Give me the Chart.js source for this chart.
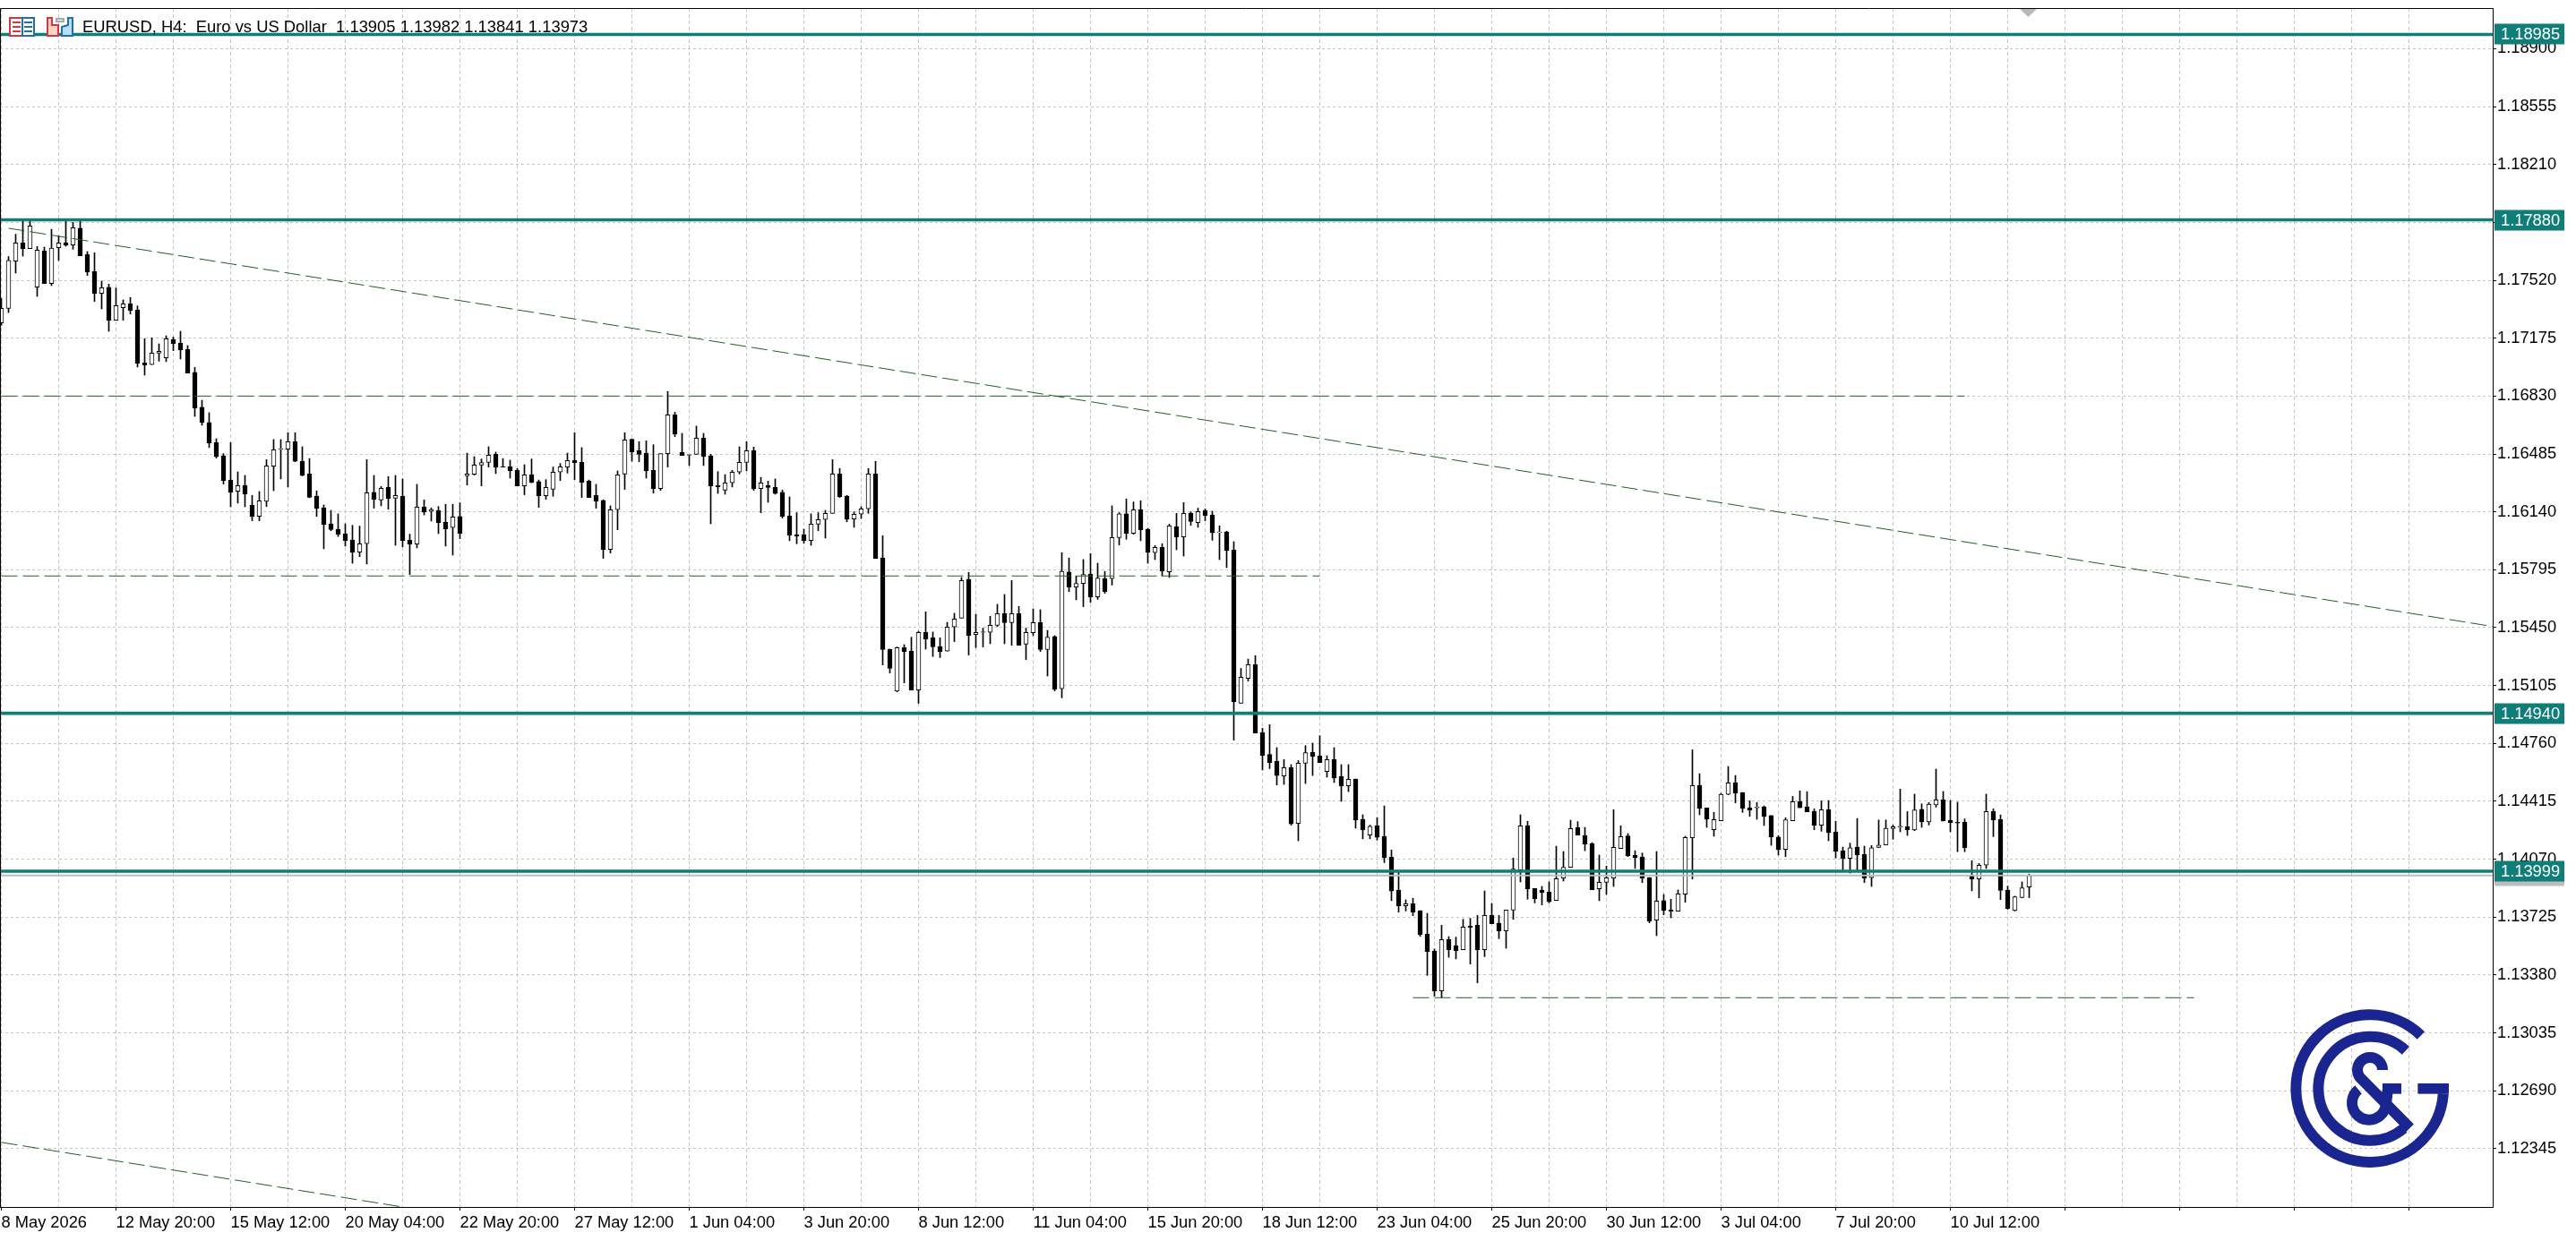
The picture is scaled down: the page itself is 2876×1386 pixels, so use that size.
<!DOCTYPE html>
<html lang="en">
<head>
<meta charset="UTF-8">
<title>EURUSD H4</title>
<script src="https://cdn.jsdelivr.net/npm/chart.js@4"></script>
<style>
  html, body { margin: 0; padding: 0; background: #fff; overflow: hidden; }
  canvas { display: block; }
</style>
</head>
<body>
<canvas id="chart" width="2876" height="1386"></canvas>
<script>
// candles, oldest first
var opens = [
1.17266,1.17353,1.17634,1.17742,1.17709,1.17479,1.17696,1.17501,1.17714,1.17744,
1.17730,1.17830,1.17673,1.17572,1.17442,1.17478,1.17282,1.17357,1.17380,1.17344,
1.17028,1.17017,1.17085,1.17058,1.17168,1.17145,1.17109,1.16971,1.16763,1.16672,
1.16553,1.16474,1.16330,1.16263,1.16298,1.16181,1.16113,1.16202,1.16412,1.16514,
1.16514,1.16558,1.16442,1.16366,1.16234,1.16165,1.16069,1.16037,1.16010,1.15973,
1.15900,1.15950,1.16256,1.16211,1.16286,1.16222,1.16233,1.15971,1.15948,1.16169,
1.16142,1.16149,1.16078,1.16046,1.16112,1.16355,1.16364,1.16419,1.16435,1.16483,
1.16409,1.16409,1.16387,1.16295,1.16361,1.16320,1.16236,1.16275,1.16377,1.16407,
1.16446,1.16435,1.16323,1.16238,1.16208,1.15916,1.16153,1.16366,1.16572,1.16505,
1.16490,1.16387,1.16279,1.16487,1.16718,1.16494,1.16478,1.16483,1.16579,1.16474,
1.16297,1.16270,1.16313,1.16377,1.16435,1.16505,1.16279,1.16297,1.16286,1.16256,
1.16115,1.16003,1.16005,1.15969,1.16067,1.16094,1.16131,1.16366,1.16234,1.16097,
1.16126,1.16158,1.16366,1.15866,1.15322,1.15071,1.15331,1.15310,1.15078,1.15422,
1.15390,1.15338,1.15310,1.15454,1.15507,1.15737,1.15409,1.15422,1.15422,1.15464,
1.15534,1.15480,1.15534,1.15352,1.15420,1.15480,1.15319,1.15397,1.15086,1.15781,
1.15692,1.15713,1.15769,1.15633,1.15742,1.15742,1.15987,1.16128,1.16012,1.16153,
1.16037,1.15897,1.15929,1.15783,1.16051,1.15991,1.16133,1.16076,1.16149,1.16121,
1.16017,1.16021,1.15913,1.14999,1.15148,1.15230,1.14824,1.14694,1.14653,1.14566,
1.14616,1.14283,1.14642,1.14706,1.14687,1.14593,1.14664,1.14562,1.14507,1.14548,
1.14308,1.14214,1.14269,1.14207,1.14082,1.13885,1.13792,1.13805,1.13764,1.13623,
1.13524,1.13286,1.13591,1.13556,1.13531,1.13671,1.13677,1.13531,1.13735,1.13689,
1.13643,1.13767,1.14006,1.14269,1.13896,1.13885,1.13876,1.13824,1.13958,1.14022,
1.14260,1.14212,1.14164,1.13894,1.13933,1.13958,1.14134,1.14209,1.14093,1.14084,
1.13961,1.13707,1.13823,1.13767,1.13760,1.13862,1.14198,1.14511,1.14376,1.14246,
1.14299,1.14457,1.14527,1.14468,1.14376,1.14377,1.14383,1.14331,1.14203,1.14128,
1.14299,1.14413,1.14383,1.14356,1.14273,1.14365,1.14233,1.14120,1.14075,1.14143,
1.14098,1.13960,1.14141,1.14155,1.14252,1.14262,1.14264,1.14244,1.14368,1.14292,
1.14394,1.14424,1.14302,1.14290,1.14290,1.13973,1.13953,1.14035,1.14354,1.14306,
1.13886,1.13764,1.13842,1.13905];
var highs = [
1.17412,1.17661,1.17794,1.17874,1.17874,1.17721,1.17718,1.17824,1.17785,1.17878,
1.17865,1.17874,1.17691,1.17684,1.17515,1.17497,1.17474,1.17403,1.17417,1.17367,
1.17172,1.17177,1.17141,1.17189,1.17181,1.17216,1.17131,1.17001,1.16805,1.16731,
1.16576,1.16487,1.16553,1.16378,1.16357,1.16238,1.16261,1.16451,1.16571,1.16571,
1.16611,1.16611,1.16528,1.16458,1.16265,1.16181,1.16149,1.16128,1.16069,1.16060,
1.16055,1.16451,1.16357,1.16291,1.16350,1.16357,1.16336,1.16007,1.16304,1.16211,
1.16163,1.16172,1.16185,1.16185,1.16194,1.16490,1.16469,1.16455,1.16528,1.16496,
1.16458,1.16448,1.16398,1.16421,1.16455,1.16330,1.16332,1.16407,1.16428,1.16490,
1.16611,1.16523,1.16330,1.16304,1.16211,1.16176,1.16384,1.16611,1.16575,1.16558,
1.16563,1.16540,1.16487,1.16857,1.16734,1.16608,1.16482,1.16651,1.16608,1.16483,
1.16380,1.16362,1.16387,1.16528,1.16558,1.16526,1.16345,1.16323,1.16336,1.16270,
1.16229,1.16135,1.16037,1.16128,1.16135,1.16149,1.16451,1.16398,1.16238,1.16140,
1.16170,1.16398,1.16441,1.15998,1.15322,1.15335,1.15349,1.15393,1.15429,1.15544,
1.15424,1.15390,1.15482,1.15536,1.15749,1.15779,1.15530,1.15447,1.15518,1.15589,
1.15648,1.15731,1.15576,1.15447,1.15562,1.15557,1.15434,1.15402,1.15897,1.15865,
1.15758,1.15856,1.15891,1.15834,1.15785,1.16176,1.16135,1.16217,1.16199,1.16206,
1.16042,1.15939,1.15950,1.16067,1.16131,1.16195,1.16140,1.16162,1.16158,1.16144,
1.16057,1.16025,1.15962,1.15207,1.15263,1.15283,1.14851,1.14872,1.14735,1.14664,
1.14634,1.14658,1.14747,1.14762,1.14806,1.14687,1.14735,1.14634,1.14634,1.14548,
1.14335,1.14273,1.14317,1.14388,1.14125,1.13997,1.13828,1.13837,1.13764,1.13748,
1.13535,1.13677,1.13609,1.13606,1.13712,1.13718,1.13735,1.13881,1.13807,1.13735,
1.13767,1.14077,1.14335,1.14296,1.13896,1.13908,1.13935,1.14148,1.14116,1.14303,
1.14294,1.14260,1.14169,1.14095,1.14029,1.14365,1.14269,1.14223,1.14121,1.14107,
1.13961,1.14116,1.13860,1.13832,1.13887,1.14207,1.14722,1.14580,1.14376,1.14349,
1.14463,1.14623,1.14569,1.14468,1.14418,1.14409,1.14388,1.14331,1.14210,1.14317,
1.14445,1.14477,1.14473,1.14370,1.14418,1.14420,1.14296,1.14143,1.14166,1.14313,
1.14148,1.14152,1.14304,1.14304,1.14274,1.14488,1.14354,1.14458,1.14400,1.14408,
1.14607,1.14474,1.14420,1.14410,1.14310,1.14061,1.14045,1.14458,1.14370,1.14334,
1.13910,1.13850,1.13935,1.13982];
var lows = [
1.17252,1.17328,1.17563,1.17664,1.17709,1.17424,1.17501,1.17488,1.17638,1.17723,
1.17705,1.17666,1.17549,1.17394,1.17349,1.17216,1.17282,1.17282,1.17319,1.17003,
1.16955,1.17017,1.17038,1.17035,1.17101,1.17051,1.16967,1.16709,1.16656,1.16523,
1.16460,1.16306,1.16170,1.16192,1.16170,1.16087,1.16087,1.16172,1.16266,1.16336,
1.16288,1.16439,1.16354,1.16224,1.16113,1.15920,1.16028,1.15993,1.15936,1.15834,
1.15873,1.15829,1.16162,1.16176,1.16156,1.15941,1.15932,1.15767,1.15925,1.16122,
1.16085,1.16010,1.15936,1.15882,1.15980,1.16300,1.16359,1.16295,1.16407,1.16368,
1.16407,1.16341,1.16295,1.16242,1.16313,1.16167,1.16215,1.16233,1.16327,1.16371,
1.16332,1.16226,1.16226,1.16162,1.15863,1.15895,1.16033,1.16274,1.16442,1.16439,
1.16341,1.16252,1.16268,1.16407,1.16588,1.16476,1.16416,1.16483,1.16416,1.16069,
1.16250,1.16245,1.16288,1.16366,1.16384,1.16268,1.16135,1.16197,1.16245,1.16103,
1.15968,1.15950,1.15953,1.15941,1.16028,1.15984,1.16131,1.16226,1.16081,1.16048,
1.16101,1.16131,1.15863,1.15228,1.15180,1.15068,1.15121,1.15078,1.14999,1.15322,
1.15278,1.15272,1.15310,1.15367,1.15507,1.15287,1.15331,1.15335,1.15354,1.15456,
1.15354,1.15345,1.15345,1.15260,1.15402,1.15308,1.15162,1.15073,1.15032,1.15665,
1.15616,1.15575,1.15601,1.15619,1.15655,1.15704,1.15943,1.15977,1.16007,1.15968,
1.15834,1.15856,1.15758,1.15749,1.15914,1.15877,1.16060,1.16048,1.16087,1.15971,
1.15856,1.15808,1.14780,1.14999,1.15132,1.14822,1.14602,1.14610,1.14513,1.14516,
1.14273,1.14180,1.14521,1.14569,1.14646,1.14559,1.14527,1.14415,1.14473,1.14255,
1.14192,1.14192,1.14184,1.14050,1.13823,1.13755,1.13762,1.13734,1.13611,1.13378,
1.13254,1.13245,1.13486,1.13476,1.13531,1.13446,1.13334,1.13490,1.13686,1.13597,
1.13540,1.13712,1.13935,1.13832,1.13810,1.13798,1.13810,1.13824,1.13940,1.14022,
1.14214,1.14121,1.13888,1.13823,1.13860,1.13908,1.14134,1.14086,1.14015,1.13931,
1.13691,1.13615,1.13739,1.13721,1.13760,1.13814,1.13952,1.14335,1.14260,1.14207,
1.14299,1.14454,1.14406,1.14349,1.14326,1.14308,1.14271,1.14153,1.14095,1.14086,
1.14299,1.14377,1.14353,1.14246,1.14237,1.14180,1.14077,1.13997,1.13988,1.13997,
1.13931,1.13908,1.14139,1.14155,1.14189,1.14234,1.14212,1.14240,1.14260,1.14274,
1.14380,1.14298,1.14234,1.14115,1.14115,1.13882,1.13840,1.14015,1.14205,1.13830,
1.13772,1.13762,1.13840,1.13841];
var closes = [
1.17353,1.17638,1.17742,1.17709,1.17844,1.17700,1.17501,1.17712,1.17742,1.17728,
1.17833,1.17666,1.17568,1.17442,1.17476,1.17282,1.17369,1.17380,1.17341,1.17026,
1.17015,1.17086,1.17097,1.17172,1.17143,1.17106,1.16967,1.16757,1.16672,1.16549,
1.16469,1.16327,1.16256,1.16297,1.16245,1.16112,1.16206,1.16414,1.16510,1.16517,
1.16558,1.16442,1.16357,1.16227,1.16160,1.16065,1.16035,1.16007,1.15968,1.15898,
1.15950,1.16254,1.16215,1.16281,1.16220,1.16238,1.15969,1.15948,1.16169,1.16140,
1.16154,1.16076,1.16039,1.16110,1.16012,1.16366,1.16419,1.16434,1.16478,1.16405,
1.16407,1.16386,1.16295,1.16361,1.16316,1.16236,1.16286,1.16377,1.16409,1.16446,
1.16434,1.16316,1.16226,1.16204,1.15916,1.16153,1.16361,1.16569,1.16498,1.16483,
1.16386,1.16279,1.16487,1.16718,1.16604,1.16476,1.16482,1.16579,1.16471,1.16295,
1.16290,1.16313,1.16377,1.16435,1.16505,1.16277,1.16313,1.16286,1.16250,1.16113,
1.16001,1.15996,1.15969,1.16067,1.16094,1.16131,1.16366,1.16229,1.16096,1.16126,
1.16158,1.16366,1.15863,1.15319,1.15207,1.15331,1.15308,1.15078,1.15422,1.15383,
1.15336,1.15308,1.15454,1.15502,1.15731,1.15404,1.15422,1.15425,1.15464,1.15534,
1.15480,1.15534,1.15345,1.15422,1.15480,1.15319,1.15393,1.15084,1.15785,1.15692,
1.15713,1.15767,1.15633,1.15745,1.15665,1.15987,1.16128,1.16012,1.16153,1.16033,
1.15898,1.15929,1.15788,1.16057,1.15991,1.16131,1.16083,1.16142,1.16119,1.16016,
1.16021,1.15909,1.15009,1.15155,1.15230,1.14822,1.14687,1.14646,1.14569,1.14616,
1.14281,1.14642,1.14705,1.14683,1.14646,1.14664,1.14554,1.14507,1.14546,1.14305,
1.14244,1.14267,1.14201,1.14079,1.13881,1.13792,1.13805,1.13755,1.13620,1.13520,
1.13286,1.13591,1.13531,1.13526,1.13666,1.13664,1.13531,1.13735,1.13686,1.13643,
1.13767,1.14011,1.14269,1.13894,1.13835,1.13872,1.13817,1.13954,1.14022,1.14253,
1.14214,1.14160,1.13888,1.13933,1.13960,1.14141,1.14205,1.14091,1.14079,1.13956,
1.13700,1.13821,1.13764,1.13760,1.13864,1.14200,1.14509,1.14374,1.14308,1.14306,
1.14457,1.14525,1.14465,1.14374,1.14363,1.14381,1.14324,1.14203,1.14127,1.14305,
1.14413,1.14377,1.14353,1.14271,1.14365,1.14228,1.14118,1.14075,1.14139,1.14095,
1.13958,1.14139,1.14155,1.14254,1.14264,1.14266,1.14246,1.14364,1.14292,1.14398,
1.14424,1.14298,1.14288,1.14286,1.14139,1.13953,1.14035,1.14354,1.14304,1.13884,
1.13776,1.13846,1.13900,1.13973];

var priceTicks = [1.18900,1.18555,1.18210,1.17865,1.17520,1.17175,1.16830,1.16485,1.16140,1.15795,
                  1.15450,1.15105,1.14760,1.14415,1.14070,1.13725,1.13380,1.13035,1.12690,1.12345];
var timeLabels = ['8 May 2026','12 May 20:00','15 May 12:00','20 May 04:00','22 May 20:00','27 May 12:00',
                  '1 Jun 04:00','3 Jun 20:00','8 Jun 12:00','11 Jun 04:00','15 Jun 20:00','18 Jun 12:00',
                  '23 Jun 04:00','25 Jun 20:00','30 Jun 12:00','3 Jul 04:00','7 Jul 20:00','10 Jul 12:00'];

var levels = [1.18985, 1.17880, 1.14940, 1.13999];
var lastBid = 1.13973;
var headerText = 'EURUSD, H4:  Euro vs US Dollar  1.13905 1.13982 1.13841 1.13973';

// drawn objects: bar index from/to, price from/to
var flatA = [[0, 274], [1.16830, 1.16830]];
var flatB = [[0, 184], [1.15758, 1.15758]];
var flatC = [[197, 306], [1.13245, 1.13245]];
var trendA = [[1, 348], [1.17830, 1.15455]];
var trendB = [[0, 56], [1.12383, 1.11998]];

var TEAL = '#0f7d78';
var DASH_GREEN = '#1f5f24';
var FONT = '18.3px "Liberation Sans", "Noto Sans", sans-serif';

function segment(s) {
    return [{x: s[0][0], y: s[1][0]}, {x: s[0][1], y: s[1][1]}];
}

function lineSet(points, color, width, dash, order) {
    return {type: 'line', data: points, borderColor: color, borderWidth: width, borderDash: dash || [],
            pointRadius: 0, fill: false, tension: 0, order: order};
}

var wicks = highs.map(function (h, i) { return {x: i, y: [lows[i], h]}; });
var bodies = opens.map(function (o, i) { return {x: i, y: [Math.min(o, closes[i]), Math.max(o, closes[i])]}; });
var bodyFill = opens.map(function (o, i) { return closes[i] >= o ? '#ffffff' : '#000000'; });

var XMIN = -0.1875, XMAX = 347.6875;
var gridBars = [];
for (var g = 0; g <= 340; g += 8) gridBars.push(g);

var datasets = [
    {type: 'bar', data: wicks, backgroundColor: '#000', barThickness: 1, grouped: false, order: 9},
    {type: 'bar', data: bodies, backgroundColor: bodyFill, borderColor: '#000', borderWidth: 1,
     borderSkipped: false, barThickness: 5, grouped: false, order: 8},
    lineSet(segment(flatA), DASH_GREEN, 1, [18, 6], 5),
    lineSet(segment(flatB), DASH_GREEN, 1, [18, 6], 5),
    lineSet(segment(flatC), DASH_GREEN, 1, [18, 6], 5),
    lineSet(segment(trendA), DASH_GREEN, 1, [18, 6], 5),
    lineSet(segment(trendB), DASH_GREEN, 1, [18, 6], 5),
    lineSet([{x: XMIN, y: lastBid}, {x: XMAX, y: lastBid}], '#bdbdbd', 2, null, 4)
];
levels.forEach(function (v) {
    datasets.push(lineSet([{x: XMIN, y: v}, {x: XMAX, y: v}], TEAL, 3.6, null, 3));
});

function priceBox(ctx, y, text, bg) {
    ctx.fillStyle = bg;
    ctx.fillRect(2785, Math.round(y) - 11.5, 78, 23);
    ctx.fillStyle = '#fff';
    ctx.font = FONT;
    ctx.textAlign = 'left';
    ctx.textBaseline = 'middle';
    ctx.fillText(text, 2792, y + 1);
}

function drawIcons(ctx) {
    // the two small MT5 buttons beside the header
    ctx.save();
    ctx.fillStyle = '#fff';
    ctx.fillRect(10, 19, 29, 22);
    ctx.lineWidth = 2;
    ctx.strokeStyle = '#d8363f';
    ctx.strokeRect(11, 20, 14, 20);
    ctx.strokeStyle = '#1f6fa8';
    ctx.strokeRect(25, 20, 13, 20);
    ctx.fillStyle = '#d8363f';
    [25, 30, 35].forEach(function (y) { ctx.fillRect(14, y - 1, 9, 2); });
    ctx.fillStyle = '#1f6fa8';
    [25, 30, 35].forEach(function (y) { ctx.fillRect(27, y - 1, 9, 2); });

    ctx.fillStyle = '#ffd2c4';
    ctx.strokeStyle = '#d8363f';
    ctx.beginPath();
    ctx.moveTo(53, 20); ctx.lineTo(58, 20); ctx.lineTo(58, 28); ctx.lineTo(65, 28); ctx.lineTo(65, 40); ctx.lineTo(53, 40);
    ctx.closePath(); ctx.fill(); ctx.stroke();
    ctx.fillStyle = '#b6e0f7';
    ctx.strokeStyle = '#1f6fa8';
    ctx.beginPath();
    ctx.moveTo(69, 40); ctx.lineTo(69, 30); ctx.lineTo(76, 28); ctx.lineTo(76, 20); ctx.lineTo(81, 20); ctx.lineTo(81, 40);
    ctx.closePath(); ctx.fill(); ctx.stroke();
    ctx.strokeStyle = '#a8a8a8';
    ctx.strokeRect(63, 21, 8, 3);
    ctx.restore();
}

function drawLogo(ctx) {
    var rad = Math.PI / 180;
    ctx.save();
    ctx.translate(2540, 1115);
    ctx.scale(1 / 3, 1 / 3);
    ctx.strokeStyle = ctx.fillStyle = '#1b2590';
    ctx.lineWidth = 36;
    ctx.lineCap = 'butt';
    ctx.lineJoin = 'miter';
    // outer G
    ctx.beginPath();
    ctx.arc(317, 302, 247, -46 * rad, 4 * rad, true);
    ctx.stroke();
    ctx.fillRect(478, 285, 104, 35);
    // inner C
    ctx.beginPath();
    ctx.arc(319, 302.5, 174, -47 * rad, 50 * rad, true);
    ctx.stroke();
    // ampersand
    ctx.beginPath();
    ctx.arc(318, 240, 42, 0, -215 * rad, true);
    ctx.lineTo(452, 434);
    ctx.stroke();
    ctx.beginPath();
    ctx.arc(315, 350, 57, -129 * rad, 5 * rad, true);
    ctx.lineTo(378, 302);
    ctx.stroke();
    ctx.fillRect(360, 285, 63, 35);
    ctx.restore();
}

var overlay = {
    id: 'overlay',
    afterDraw: function (chart) {
        var ctx = chart.ctx, a = chart.chartArea, y = chart.scales.y;
        ctx.save();
        // frame: the axes only give right and bottom
        ctx.strokeStyle = '#000';
        ctx.lineWidth = 1;
        ctx.beginPath();
        ctx.moveTo(0.5, a.bottom); ctx.lineTo(0.5, a.top + 0.5); ctx.lineTo(a.right, a.top + 0.5);
        ctx.stroke();
        // shift marker
        ctx.fillStyle = '#b9b9b9';
        ctx.beginPath();
        ctx.moveTo(2255, a.top + 1); ctx.lineTo(2274, a.top + 1); ctx.lineTo(2264.5, 19);
        ctx.closePath(); ctx.fill();

        drawLogo(ctx);
        drawIcons(ctx);

        ctx.fillStyle = '#000';
        ctx.font = '18.4px "Liberation Sans", "Noto Sans", sans-serif';
        ctx.textAlign = 'left';
        ctx.textBaseline = 'middle';
        ctx.fillText(headerText, 92, 31);

        priceBox(ctx, y.getPixelForValue(lastBid), lastBid.toFixed(5), '#bdbdbd');
        levels.forEach(function (v) {
            priceBox(ctx, y.getPixelForValue(v), v.toFixed(5), TEAL);
        });
        ctx.restore();
    }
};

new Chart(document.getElementById('chart'), {
    data: {datasets: datasets},
    plugins: [overlay],
    options: {
        responsive: false,
        animation: false,
        events: [],
        layout: {padding: {top: 9, left: 0, right: 0, bottom: 0}},
        plugins: {legend: {display: false}, tooltip: {enabled: false}, title: {display: false}},
        scales: {
            x: {
                type: 'linear',
                offset: false,
                min: XMIN,
                max: XMAX,
                afterBuildTicks: function (s) { s.ticks = gridBars.map(function (v) { return {value: v}; }); },
                afterFit: function (s) {
                    s.height = 38;
                    s.paddingLeft = s.paddingRight = s.paddingTop = s.paddingBottom = 0;
                },
                grid: {
                    offset: false,
                    color: '#c6c6c6',
                    tickLength: 4,
                    tickColor: function (c) { return c.tick && c.tick.value % 16 === 0 ? '#000' : 'rgba(0,0,0,0)'; }
                },
                border: {color: '#000', width: 1, dash: [4, 3]},
                ticks: {
                    autoSkip: false,
                    maxRotation: 0,
                    align: 'start',
                    padding: 3,
                    color: '#000',
                    font: {family: '"Liberation Sans", "Noto Sans", sans-serif', size: 18.3},
                    callback: function (v) { return v % 16 === 0 && timeLabels[v / 16] ? timeLabels[v / 16] : ''; }
                }
            },
            y: {
                type: 'linear',
                position: 'right',
                min: 1.11998,
                max: 1.19142,
                afterBuildTicks: function (s) { s.ticks = priceTicks.map(function (v) { return {value: v}; }); },
                afterFit: function (s) {
                    s.width = 93;
                    s.paddingLeft = s.paddingRight = s.paddingTop = s.paddingBottom = 0;
                },
                grid: {color: '#c6c6c6', tickLength: 4, tickColor: '#000'},
                border: {color: '#000', width: 1, dash: [3, 3]},
                ticks: {
                    autoSkip: false,
                    padding: 1,
                    color: '#000',
                    font: {family: '"Liberation Sans", "Noto Sans", sans-serif', size: 18.3},
                    callback: function (v) { return v.toFixed(5); }
                }
            }
        }
    }
});
</script>
</body>
</html>
